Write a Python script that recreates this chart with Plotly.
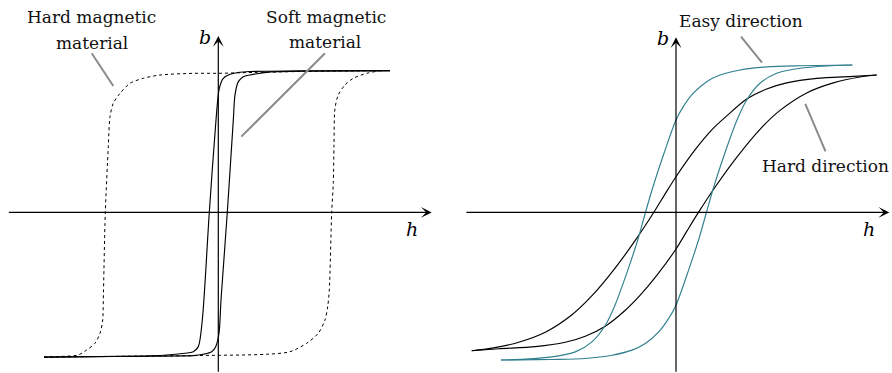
import plotly.graph_objects as go

# ---------------- left panel: soft vs hard magnetic material ----------------
# field h and induction b (normalised units)
soft_down_h = [1.717, 0.817, 0.317, 0.197, 0.117, 0.05, 0.01, -0.023, -0.09, -0.16,
               -0.2, -0.25, -0.333, -0.683, -1.183, -1.743]
soft_down_b = [1.005, 1.003, 0.999, 0.992, 0.979, 0.951, 0.880, 0.655, 0.001, -0.763,
               -0.952, -0.988, -0.999, -1.018, -1.023, -1.026]
soft_up_h = [-1.743, -1.183, -0.683, -0.333, -0.253, -0.15, -0.066, -0.026, 0.007, 0.027,
             0.09, 0.15, 0.167, 0.2, 0.25, 0.317, 0.517, 0.817, 1.717]
soft_up_b = [-1.026, -1.022, -1.020, -1.018, -1.016, -1.006, -0.988, -0.952, -0.857, -0.621,
             0.001, 0.655, 0.833, 0.927, 0.962, 0.974, 0.996, 1.001, 1.005]

hard_down_h = [1.717, 0.817, 0.217, -0.016, -0.25, -0.583, -0.75, -0.883, -0.983, -1.05,
               -1.083, -1.1, -1.13, -1.15, -1.156, -1.183, -1.233, -1.316, -1.4, -1.583, -1.743]
hard_down_b = [1.005, 0.999, 0.990, 0.986, 0.986, 0.974, 0.951, 0.915, 0.844, 0.774,
               0.679, 0.466, -0.001, -0.621, -0.763, -0.857, -0.928, -0.976, -1.011, -1.022, -1.026]
hard_up_h = [-1.743, -1.183, -0.183, 0.484, 0.717, 0.884, 1.0, 1.067, 1.094, 1.11,
             1.134, 1.15, 1.157, 1.167, 1.2, 1.267, 1.35, 1.484, 1.617, 1.717]
hard_up_b = [-1.026, -1.022, -1.015, -1.006, -0.988, -0.928, -0.857, -0.763, -0.668, -0.55,
             -0.001, 0.209, 0.477, 0.738, 0.833, 0.904, 0.951, 0.986, 1.003, 1.005]

# ---------------- right panel: easy vs hard direction ----------------
easy_down_h = [1.763, 1.573, 1.24, 0.907, 0.64, 0.44, 0.307, 0.173, 0.073, 0.0, -0.12,
               -0.23, -0.305, -0.378, -0.488, -0.61, -0.707, -0.84, -1.007, -1.24, -1.507, -1.75]
easy_down_b = [1.045, 1.043, 1.040, 1.032, 1.010, 0.974, 0.927, 0.845, 0.750, 0.655, 0.419,
               0.182, 0.001, -0.185, -0.422, -0.658, -0.800, -0.918, -0.989, -1.025, -1.041, -1.047]
easy_up_h = [-1.75, -1.573, -1.24, -0.907, -0.64, -0.44, -0.307, -0.173, -0.073, 0.0, 0.12,
             0.23, 0.305, 0.378, 0.488, 0.61, 0.707, 0.84, 1.007, 1.24, 1.507, 1.763]
easy_up_b = [-1.047, -1.046, -1.043, -1.036, -1.013, -0.977, -0.930, -0.848, -0.752, -0.658,
             -0.422, -0.185, 0.001, 0.182, 0.419, 0.655, 0.797, 0.916, 0.987, 1.022, 1.038, 1.045]

harddir_down_h = [2.007, 1.773, 1.407, 1.107, 0.907, 0.707, 0.507, 0.36, 0.19, 0.0, -0.107,
                  -0.223, -0.39, -0.607, -0.84, -1.04, -1.307, -1.573, -1.84, -2.043]
harddir_down_b = [0.974, 0.964, 0.950, 0.918, 0.875, 0.804, 0.684, 0.587, 0.443, 0.253, 0.133,
                  -0.001, -0.181, -0.393, -0.591, -0.726, -0.850, -0.921, -0.963, -0.981]
harddir_up_h = [-2.043, -1.773, -1.407, -1.107, -0.907, -0.707, -0.507, -0.36, -0.19, 0.0,
                0.107, 0.223, 0.39, 0.607, 0.84, 1.04, 1.307, 1.573, 1.84, 2.007]
harddir_up_b = [-0.981, -0.967, -0.952, -0.921, -0.878, -0.807, -0.694, -0.589, -0.445, -0.260,
                -0.135, -0.002, 0.178, 0.390, 0.589, 0.723, 0.847, 0.918, 0.960, 0.974]

# axis extents (h from, h to, b from, b to) for each panel
left_axes = (-2.11, 2.134, -1.14, 1.251)
right_axes = (-2.11, 2.133, -1.14, 1.242)

# callouts: text lines, text anchor (h, b) for each line, leader start, leader end
left_callouts = [
    (["Hard magnetic", "material"], [(-1.266, 1.386), (-1.266, 1.204)], (-1.266, 1.128), (-1.05, 0.896)),
    (["Soft magnetic", "material"], [(1.077, 1.386), (1.067, 1.205)], (1.067, 1.128), (0.23, 0.537)),
]
right_callouts = [
    (["Easy direction"], [(0.65, 1.357)], (0.65, 1.246), (0.86, 1.062)),
    (["Hard direction"], [(1.497, 0.329)], (1.293, 0.769), (1.495, 0.432)),
]

BLACK = "#000000"
TEAL = "#2f7f8e"
GREY = "#8a8a8a"
SERIF = "DejaVu Serif"

fig = go.Figure()


def curve(h, b, color, xa, ya, dash=None, width=1.15):
    fig.add_trace(go.Scatter(
        x=h, y=b, mode="lines", xaxis=xa, yaxis=ya,
        line=dict(color=color, width=width, shape="spline", smoothing=0.8, dash=dash),
        hoverinfo="skip", showlegend=False))


# left panel loops
curve(hard_down_h, hard_down_b, BLACK, "x", "y", dash="3px,3px", width=1.0)
curve(hard_up_h, hard_up_b, BLACK, "x", "y", dash="3px,3px", width=1.0)
curve(soft_down_h, soft_down_b, BLACK, "x", "y")
curve(soft_up_h, soft_up_b, BLACK, "x", "y")

# right panel loops
curve(harddir_down_h, harddir_down_b, BLACK, "x2", "y2")
curve(harddir_up_h, harddir_up_b, BLACK, "x2", "y2")
curve(easy_down_h, easy_down_b, TEAL, "x2", "y2")
curve(easy_up_h, easy_up_b, TEAL, "x2", "y2")

annotations = []
shapes = []


def draw_axes(ext, xr, yr):
    h0, h1, b0, b1 = ext
    # h axis with arrow
    annotations.append(dict(x=h1, y=0, ax=h0, ay=0, xref=xr, yref=yr, axref=xr, ayref=yr,
                            text="", showarrow=True, arrowhead=3, arrowsize=1.5,
                            arrowwidth=1.2, arrowcolor=BLACK, standoff=0))
    # b axis with arrow
    annotations.append(dict(x=0, y=b1, ax=0, ay=b0, xref=xr, yref=yr, axref=xr, ayref=yr,
                            text="", showarrow=True, arrowhead=3, arrowsize=1.5,
                            arrowwidth=1.2, arrowcolor=BLACK, standoff=0))


def axis_label(text, h, b, xr, yr):
    annotations.append(dict(x=h, y=b, xref=xr, yref=yr, text="<i>%s</i>" % text,
                            showarrow=False, xanchor="center", yanchor="middle",
                            font=dict(family=SERIF, size=19, color=BLACK)))


def draw_callouts(callouts, xr, yr):
    for lines, anchors, p0, p1 in callouts:
        for line, (h, b) in zip(lines, anchors):
            annotations.append(dict(x=h, y=b, xref=xr, yref=yr, text=line, showarrow=False,
                                    xanchor="center", yanchor="middle",
                                    font=dict(family=SERIF, size=17, color="#111111")))
        shapes.append(dict(type="line", xref=xr, yref=yr, x0=p0[0], y0=p0[1], x1=p1[0], y1=p1[1],
                           line=dict(color=GREY, width=2)))


draw_axes(left_axes, "x", "y")
draw_axes(right_axes, "x2", "y2")
axis_label("b", -0.13, 1.246, "x", "y")
axis_label("h", 1.934, -0.12, "x", "y")
axis_label("b", -0.13, 1.24, "x2", "y2")
axis_label("h", 1.933, -0.12, "x2", "y2")
draw_callouts(left_callouts, "x", "y")
draw_callouts(right_callouts, "x2", "y2")

hidden = dict(visible=False, showgrid=False, zeroline=False, fixedrange=True)
fig.update_layout(
    width=892, height=373,
    margin=dict(l=0, r=0, t=0, b=0),
    paper_bgcolor="white", plot_bgcolor="white",
    xaxis=dict(domain=[0, 0.5], range=[-2.183, 2.277], **hidden),
    yaxis=dict(domain=[0, 1], range=[-1.139, 1.506], **hidden),
    xaxis2=dict(domain=[0.5, 1], range=[-2.30, 2.16], **hidden),
    yaxis2=dict(domain=[0, 1], range=[-1.139, 1.506], anchor="x2", **hidden),
    annotations=annotations,
    shapes=shapes,
    showlegend=False,
)

fig.write_html("out.html")
